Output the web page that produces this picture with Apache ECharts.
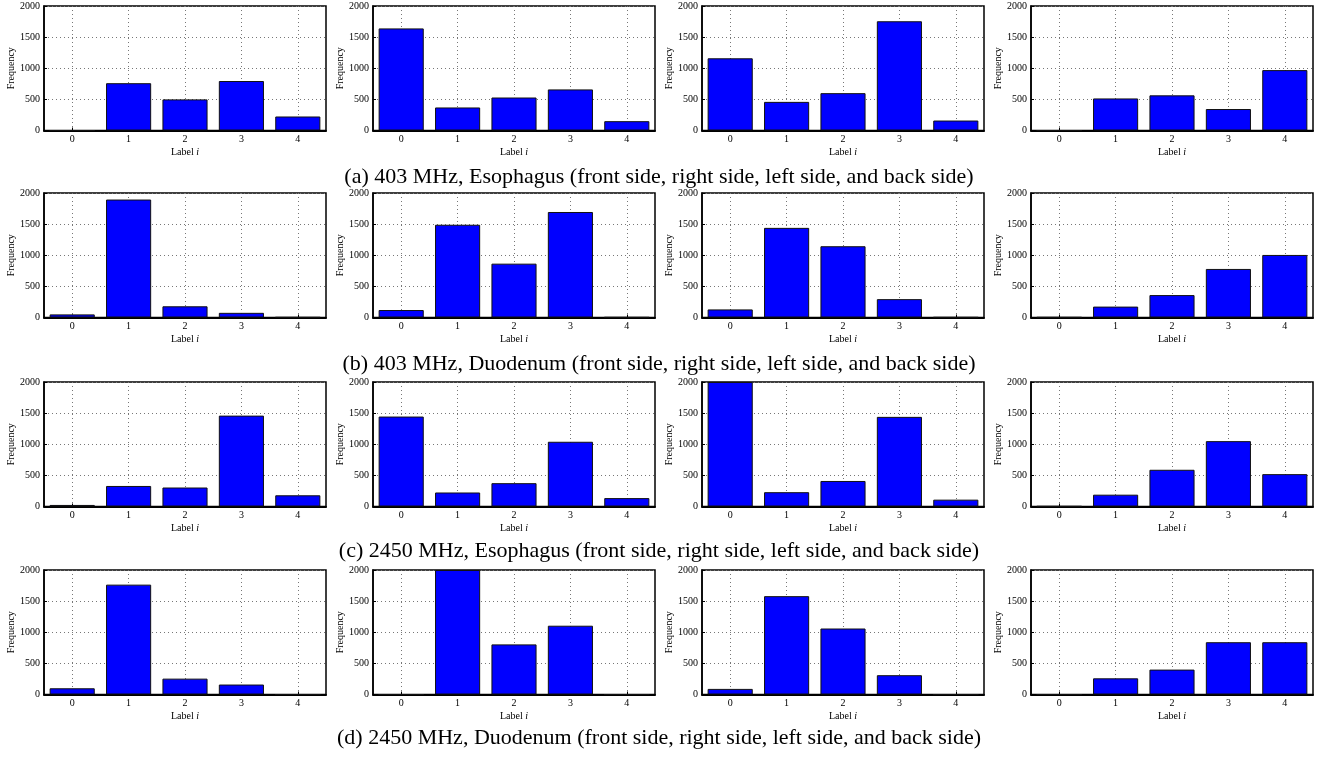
<!DOCTYPE html>
<html>
<head>
<meta charset="utf-8">
<script src="https://cdn.jsdelivr.net/npm/echarts@6/dist/echarts.min.js"></script>
<style>
html,body{margin:0;padding:0;background:#fff;}
#chart{width:1332px;height:757px;}
</style>
</head>
<body>
<div id="chart"></div>
<script>
// Categories (Label i)
const categories = ['0', '1', '2', '3', '4'];
const yTicks = [0, 500, 1000, 1500, 2000];

// Panels per row: front side, right side, left side, back side
const esophagus403 = [
  [0, 760, 500, 795, 225],
  [1640, 370, 530, 660, 150],
  [1160, 460, 600, 1755, 160],
  [0, 515, 565, 345, 970]
];
const duodenum403 = [
  [50, 1895, 180, 75, 5],
  [120, 1490, 865, 1695, 5],
  [130, 1440, 1145, 295, 5],
  [5, 175, 360, 780, 1005]
];
const esophagus2450 = [
  [25, 330, 305, 1460, 180],
  [1445, 225, 375, 1040, 135],
  [2000, 230, 410, 1440, 110],
  [5, 190, 590, 1050, 520]
];
const duodenum2450 = [
  [100, 1765, 255, 160, 0],
  [0, 2000, 805, 1105, 0],
  [90, 1580, 1060, 310, 0],
  [0, 260, 400, 840, 840]
];

const captions = [
  '(a) 403 MHz, Esophagus (front side, right side, left side, and back side)',
  '(b) 403 MHz, Duodenum (front side, right side, left side, and back side)',
  '(c) 2450 MHz, Esophagus (front side, right side, left side, and back side)',
  '(d) 2450 MHz, Duodenum (front side, right side, left side, and back side)'
];

const rows = [esophagus403, duodenum403, esophagus2450, duodenum2450];
const colLeft = [44, 373, 702, 1031];
const rowTop = [6, 193, 382, 570];
const gridW = 282, gridH = 124.5;
const captionY = [177, 364, 551, 738];

const FONT = 'Liberation Serif';
const grids = [], xAxes = [], yAxes = [], series = [];
let idx = 0;
rows.forEach((row, r) => {
  row.forEach((vals, c) => {
    grids.push({
      left: colLeft[c], top: rowTop[r], width: gridW, height: gridH,
      show: true, borderColor: '#000', borderWidth: 1.5, backgroundColor: 'transparent'
    });
    xAxes.push({
      type: 'category', gridIndex: idx, data: categories,
      boundaryGap: true,
      axisLine: { show: true, lineStyle: { color: '#000', width: 2 } },
      axisTick: { show: true, inside: true, length: 3, alignWithLabel: true, lineStyle: { color: '#000' } },
      axisLabel: { fontFamily: FONT, fontSize: 10, color: '#000', margin: 4 },
      splitLine: { show: true, alignWithLabel: true, interval: 0, lineStyle: { type: [1, 3], color: '#777', width: 1 } },
      name: 'Label {i|i}',
      nameLocation: 'middle', nameGap: 17,
      nameTextStyle: { fontFamily: FONT, fontSize: 10, color: '#000',
        rich: { i: { fontFamily: FONT, fontSize: 10, fontStyle: 'italic', color: '#000' } } }
    });
    yAxes.push({
      type: 'value', gridIndex: idx, min: 0, max: 2000, interval: 500,
      axisLine: { show: true, lineStyle: { color: '#000', width: 1.5 } },
      axisTick: { show: true, inside: true, length: 3, lineStyle: { color: '#000' } },
      axisLabel: { fontFamily: FONT, fontSize: 10, color: '#000', margin: 4,
        formatter: v => (yTicks.indexOf(v) >= 0 ? String(v) : '') },
      splitLine: { show: true, lineStyle: { type: [1, 3], color: '#777', width: 1 } },
      name: 'Frequency', nameLocation: 'middle', nameGap: 26,
      nameTextStyle: { fontFamily: FONT, fontSize: 10, color: '#000' }
    });
    series.push({
      type: 'bar', xAxisIndex: idx, yAxisIndex: idx, data: vals,
      barCategoryGap: '20%',
      itemStyle: { color: '#0000ff', borderColor: '#111', borderWidth: 1 },
      animation: false, silent: true
    });
    idx++;
  });
});

const graphics = captions.map((t, r) => ({
  type: 'text', x: 659, y: captionY[r],
  style: { text: t, fontFamily: FONT, fontSize: 22, fill: '#000', align: 'center', verticalAlign: 'middle' }
}));

const chart = echarts.init(document.getElementById('chart'), null, { renderer: 'canvas' });
chart.setOption({
  animation: false,
  backgroundColor: '#fff',
  grid: grids, xAxis: xAxes, yAxis: yAxes, series: series,
  graphic: graphics
});
</script>
</body>
</html>
